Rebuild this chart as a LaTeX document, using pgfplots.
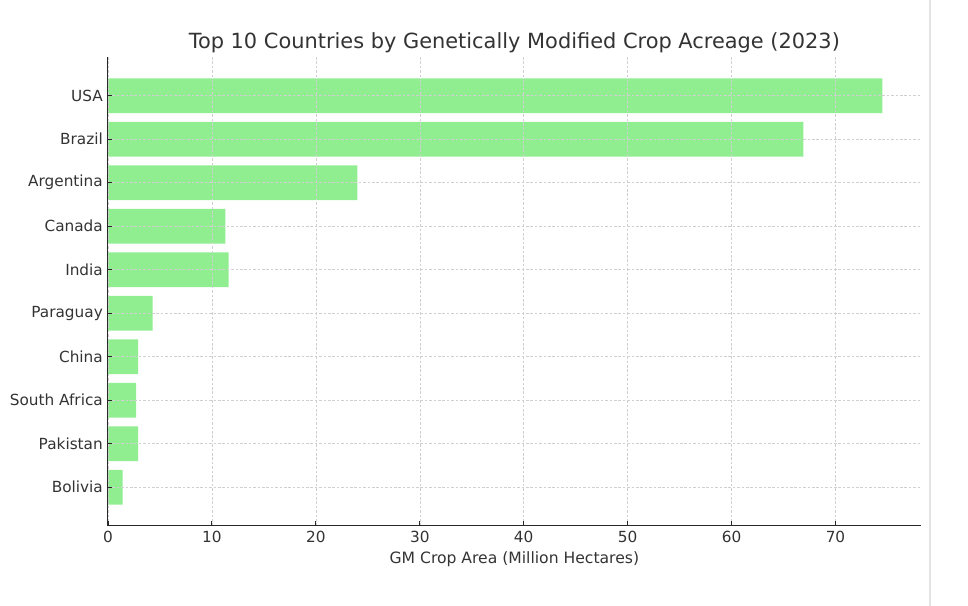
\documentclass[border=0pt]{standalone}
\usepackage{fontspec}
\setmainfont{DejaVu Sans}
\usepackage{pgfplots}
\pgfplotsset{compat=1.18}
\definecolor{barcol}{RGB}{144,238,144}
\definecolor{txt}{RGB}{51,51,51}
\definecolor{spine}{RGB}{40,40,40}
\definecolor{gridc}{RGB}{208,208,208}
\definecolor{edge}{RGB}{228,228,228}

\begin{document}
\begin{tikzpicture}
\begin{axis}[
    name=ax,
    xbar,
    width=812.7bp, height=469bp,
    scale only axis,
    xmin=0, xmax=78.2,
    ymin=-0.89, ymax=9.89,
    y dir=reverse,
    bar width=0.8,
    axis x line*=bottom,
    axis y line*=left,
    axis line style={spine, line width=1bp},
    tick align=inside,
    major tick length=4.5bp,
    tick style={spine, line width=0.9bp},
    xtick={0,10,...,70},
    ytick={0,...,9},
    yticklabels={USA,Brazil,Argentina,Canada,India,Paraguay,China,South Africa,Pakistan,Bolivia},
    /pgf/number format/assume math mode=true,
    font=\fontsize{15.3bp}{18bp}\selectfont,
    tick label style={txt},
    ticklabel style={inner sep=0pt},
    xticklabel style={anchor=north, yshift=-4.5bp},
    yticklabel style={anchor=east, xshift=-5bp},
    xmajorgrids, ymajorgrids,
    grid style={gridc, line width=0.55bp, dash pattern=on 2.6bp off 1.8bp},
    axis on top,
    title={Top 10 Countries by Genetically Modified Crop Acreage (2023)},
    title style={txt, font=\fontsize{20.9bp}{24bp}\selectfont, at={(0.5,1)}, anchor=base, yshift=3bp},
    xlabel={GM Crop Area (Million Hectares)},
    xlabel style={txt, font=\fontsize{15.6bp}{18bp}\selectfont, at={(0.5,0)}, anchor=base, yshift=-38bp},
]
\addplot[fill=barcol, draw=none] coordinates {
    (74.5,0) (66.9,1) (24.0,2) (11.3,3) (11.6,4)
    (4.3,5) (2.9,6) (2.7,7) (2.9,8) (1.4,9)
};
\end{axis}
\draw[edge, line width=2bp] ([shift={(9.3bp,57bp)}]ax.north east) -- ([shift={(9.3bp,-80bp)}]ax.south east);
\pgfresetboundingbox
\path[use as bounding box] ([shift={(-108bp,-80bp)}]ax.south west) rectangle ([shift={(47.3bp,57bp)}]ax.north east);
\end{tikzpicture}
\end{document}
